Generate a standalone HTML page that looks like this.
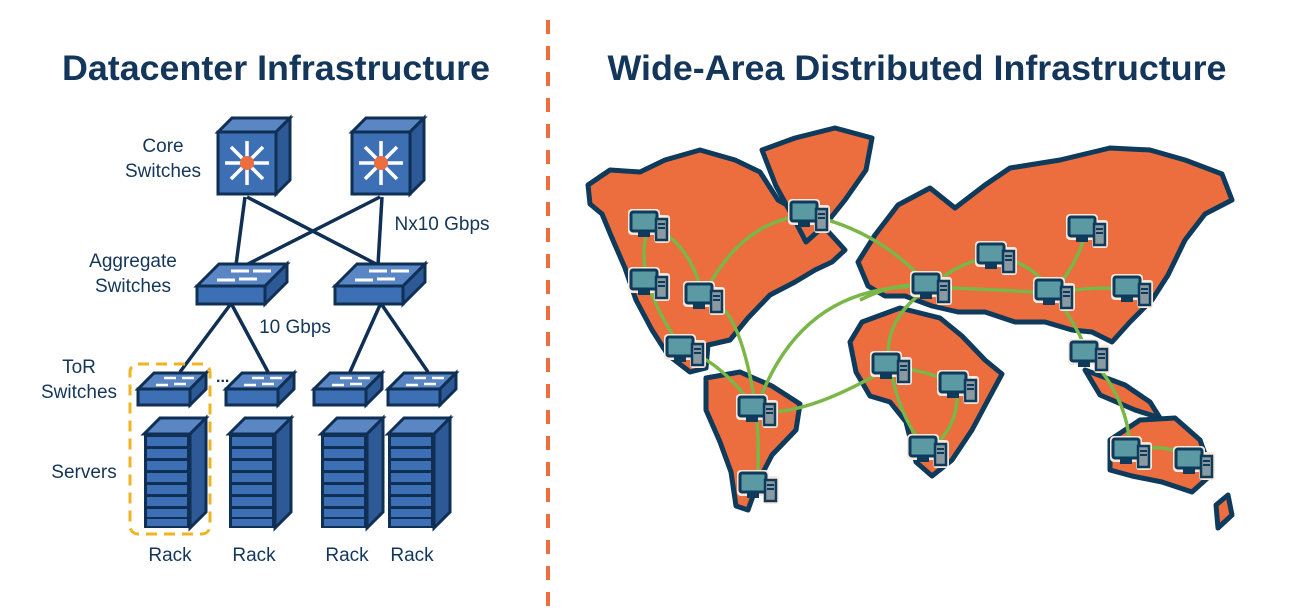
<!DOCTYPE html>
<html><head><meta charset="utf-8"><style>
body{margin:0;background:#fff;width:1312px;height:615px;overflow:hidden}
svg{display:block}
text{font-family:"Liberation Sans",sans-serif}
</style></head><body>
<svg width="1312" height="615" viewBox="0 0 1312 615" xmlns="http://www.w3.org/2000/svg">
<defs>
<g id="core">
 <polygon points="0,14 14,0 72,0 58,14" fill="#5a86c4" stroke="#0f2f55" stroke-width="3"/>
 <polygon points="58,14 72,0 72,62 58,76" fill="#2d5a96" stroke="#0f2f55" stroke-width="3"/>
 <rect x="0" y="14" width="58" height="62" fill="#3d6fb4" stroke="#0f2f55" stroke-width="3"/>
 <g stroke="#fff" stroke-width="3.5" fill="#fff">
  <line x1="29" y1="45" x2="29" y2="23"/><line x1="29" y1="45" x2="29" y2="67"/>
  <line x1="29" y1="45" x2="7" y2="45"/><line x1="29" y1="45" x2="51" y2="45"/>
  <line x1="29" y1="45" x2="13" y2="29"/><line x1="29" y1="45" x2="45" y2="29"/>
  <line x1="29" y1="45" x2="13" y2="61"/><line x1="29" y1="45" x2="45" y2="61"/>
 </g>
 <circle cx="29" cy="45" r="7" fill="#ec6d3e"/>
</g>
<g id="agg">
 <polygon points="0,22 22,0 90,0 68,22" fill="#5a86c4" stroke="#0f2f55" stroke-width="3"/>
 <polygon points="68,22 90,0 90,18 68,40" fill="#2d5a96" stroke="#0f2f55" stroke-width="3"/>
 <rect x="0" y="22" width="68" height="18" fill="#3d6fb4" stroke="#0f2f55" stroke-width="3"/>
 <g stroke="#fff" stroke-width="3"><line x1="20" y1="16" x2="38" y2="16"/><line x1="34" y1="7" x2="52" y2="7"/><line x1="42" y1="15" x2="60" y2="15"/><line x1="56" y1="7" x2="74" y2="7"/></g>
</g>
<g id="tor">
 <polygon points="0,16 16,0 68,0 52,16" fill="#5a86c4" stroke="#0f2f55" stroke-width="3"/>
 <polygon points="52,16 68,0 68,16 52,32" fill="#2d5a96" stroke="#0f2f55" stroke-width="3"/>
 <rect x="0" y="16" width="52" height="16" fill="#3d6fb4" stroke="#0f2f55" stroke-width="3"/>
 <g stroke="#fff" stroke-width="2.5"><line x1="18" y1="12" x2="30" y2="12"/><line x1="26" y1="5" x2="38" y2="5"/><line x1="36" y1="11" x2="48" y2="11"/><line x1="44" y1="5" x2="56" y2="5"/></g>
</g>
<g id="srv">
 <polygon points="0,16 16,0 62,0 46,16" fill="#5a86c4" stroke="#0f2f55" stroke-width="3"/>
 <polygon points="46,16 62,0 62,94 46,110" fill="#2d5a96" stroke="#0f2f55" stroke-width="3"/>
 <rect x="0" y="16" width="46" height="94" fill="#0f2f55"/>
 <g fill="#3d6fb4">
  <rect x="3" y="19" width="40" height="9"/><rect x="3" y="31" width="40" height="9"/><rect x="3" y="43" width="40" height="9"/><rect x="3" y="55" width="40" height="9"/>
  <rect x="3" y="67" width="40" height="9"/><rect x="3" y="79" width="40" height="9"/><rect x="3" y="91" width="40" height="8"/><rect x="3" y="101" width="40" height="7"/>
 </g>
</g>
<g id="pc">
 <rect x="-20" y="-16" width="32" height="26" rx="4" fill="#fde8dc" />
 <rect x="6" y="-10" width="16" height="28" rx="3" fill="#fde8dc"/>
 <rect x="-17" y="-13" width="26" height="19" rx="2" fill="#5b9aa3" stroke="#0e3a5c" stroke-width="3"/>
 <rect x="-10" y="6" width="12" height="6" fill="#0e3a5c"/>
 <rect x="8" y="-6" width="11" height="21" fill="#8a9aa3" stroke="#0e3a5c" stroke-width="2.5"/>
 <line x1="10" y1="-1" x2="17" y2="-1" stroke="#0e3a5c" stroke-width="2"/>
 <line x1="10" y1="3" x2="17" y2="3" stroke="#0e3a5c" stroke-width="2"/>
</g>
</defs>

<text x="276" y="80" text-anchor="middle" font-size="35" font-weight="bold" fill="#13365a" textLength="428" lengthAdjust="spacingAndGlyphs">Datacenter Infrastructure</text>
<text x="917" y="80" text-anchor="middle" font-size="35" font-weight="bold" fill="#13365a" textLength="619" lengthAdjust="spacingAndGlyphs">Wide-Area Distributed Infrastructure</text>
<line x1="548" y1="20" x2="548" y2="612" stroke="#ec6d3e" stroke-width="4" stroke-dasharray="14,12"/>

<g stroke="#0f2f55" stroke-width="3.5">
<line x1="245" y1="197" x2="236" y2="265"/><line x1="247" y1="197" x2="378" y2="265"/>
<line x1="380" y1="197" x2="246" y2="265"/><line x1="382" y1="197" x2="378" y2="265"/>
<line x1="230" y1="305" x2="180" y2="372"/><line x1="232" y1="305" x2="268" y2="372"/>
<line x1="380" y1="305" x2="350" y2="372"/><line x1="382" y1="305" x2="428" y2="372"/>
</g>
<use href="#core" x="218" y="118"/>
<use href="#core" x="352" y="118"/>
<use href="#agg" x="197" y="264"/>
<use href="#agg" x="335" y="264"/>
<use href="#tor" x="138" y="373"/>
<use href="#tor" x="226" y="373"/>
<use href="#tor" x="314" y="373"/>
<use href="#tor" x="388" y="373"/>
<use href="#srv" x="144" y="418"/>
<use href="#srv" x="229" y="418"/>
<use href="#srv" x="321" y="418"/>
<use href="#srv" x="388" y="418"/>
<rect x="130" y="364" width="80" height="170" rx="8" fill="none" stroke="#f0b323" stroke-width="3" stroke-dasharray="11,7"/>
<text x="216" y="382" font-size="16" fill="#0f2f55" font-weight="bold">...</text>
<g font-size="19" fill="#13365a" text-anchor="middle">
<text x="163" y="152">Core</text><text x="163" y="177">Switches</text>
<text x="133" y="267">Aggregate</text><text x="133" y="292">Switches</text>
<text x="442" y="230">Nx10 Gbps</text>
<text x="295" y="333">10 Gbps</text>
<text x="79" y="373">ToR</text><text x="79" y="398">Switches</text>
<text x="84" y="478">Servers</text>
<text x="170" y="561">Rack</text><text x="254" y="561">Rack</text><text x="347" y="561">Rack</text><text x="412" y="561">Rack</text>
</g>

<g fill="#ec6d3e" stroke="#0e3a5c" stroke-width="5" stroke-linejoin="round">
<polygon points="588,185 610,170 640,172 665,160 700,150 735,160 760,172 778,200 800,212 825,228 845,250 832,262 815,270 795,282 770,295 748,318 730,340 708,345 706,368 690,372 668,355 652,330 636,300 625,268 612,238 602,214 590,204"/>
<polygon points="762,150 795,138 835,128 872,138 866,170 845,200 825,225 806,242 792,215 776,186"/>
<polygon points="706,378 740,372 772,386 800,404 796,430 772,455 758,482 748,510 736,506 731,472 720,442 706,410"/>
<polygon points="858,262 875,235 898,205 930,188 955,208 985,185 1010,168 1060,160 1110,148 1150,150 1185,160 1222,174 1232,200 1205,214 1185,240 1168,275 1152,300 1130,322 1112,342 1092,332 1072,330 1045,322 1015,322 985,312 958,312 932,306 905,296 885,296 868,286"/>
<polygon points="862,322 900,308 940,318 962,336 985,360 1002,374 988,400 972,430 952,460 932,476 916,462 906,422 890,402 870,396 856,372 850,342"/>
<polygon points="1110,440 1140,420 1175,418 1200,440 1212,474 1192,492 1162,482 1132,476 1110,470"/>
<polygon points="1085,370 1125,385 1150,402 1160,418 1135,410 1100,395"/>
<polygon points="1216,505 1228,495 1232,515 1218,528"/>
</g>
<g stroke="#7ab648" stroke-width="3.5" fill="none">
<path d="M648,225 Q640,255 648,283"/><path d="M648,225 Q690,240 703,297"/>
<path d="M648,283 Q660,320 684,350"/><path d="M703,297 Q740,300 756,410"/>
<path d="M703,297 Q740,220 808,215"/><path d="M808,215 Q880,230 930,287"/>
<path d="M684,350 Q720,360 756,410"/><path d="M756,410 Q800,280 930,287"/>
<path d="M756,410 Q800,420 890,367"/><path d="M756,410 Q760,450 757,486"/>
<path d="M930,287 Q960,260 995,257"/><path d="M995,257 Q1030,260 1053,293"/>
<path d="M930,287 Q1000,290 1053,293"/><path d="M1053,293 Q1080,260 1086,230"/>
<path d="M1053,293 Q1100,285 1131,290"/><path d="M1053,293 Q1080,330 1088,355"/>
<path d="M930,287 Q880,320 890,367"/><path d="M890,367 Q930,370 957,386"/>
<path d="M890,367 Q900,420 927,450"/><path d="M957,386 Q960,430 927,450"/>
<path d="M1088,355 Q1130,400 1130,452"/><path d="M1130,452 Q1170,440 1193,462"/>
<path d="M860,300 Q900,280 930,287"/>
</g>
<g>
<use href="#pc" x="648" y="225"/><use href="#pc" x="648" y="283"/><use href="#pc" x="703" y="297"/>
<use href="#pc" x="684" y="350"/><use href="#pc" x="808" y="215"/><use href="#pc" x="930" y="287"/>
<use href="#pc" x="995" y="257"/><use href="#pc" x="1053" y="293"/><use href="#pc" x="1086" y="230"/>
<use href="#pc" x="1131" y="290"/><use href="#pc" x="1088" y="355"/><use href="#pc" x="890" y="367"/>
<use href="#pc" x="957" y="386"/><use href="#pc" x="927" y="450"/><use href="#pc" x="756" y="410"/>
<use href="#pc" x="757" y="486"/><use href="#pc" x="1130" y="452"/><use href="#pc" x="1193" y="462"/>
</g>
</svg>
</body></html>
